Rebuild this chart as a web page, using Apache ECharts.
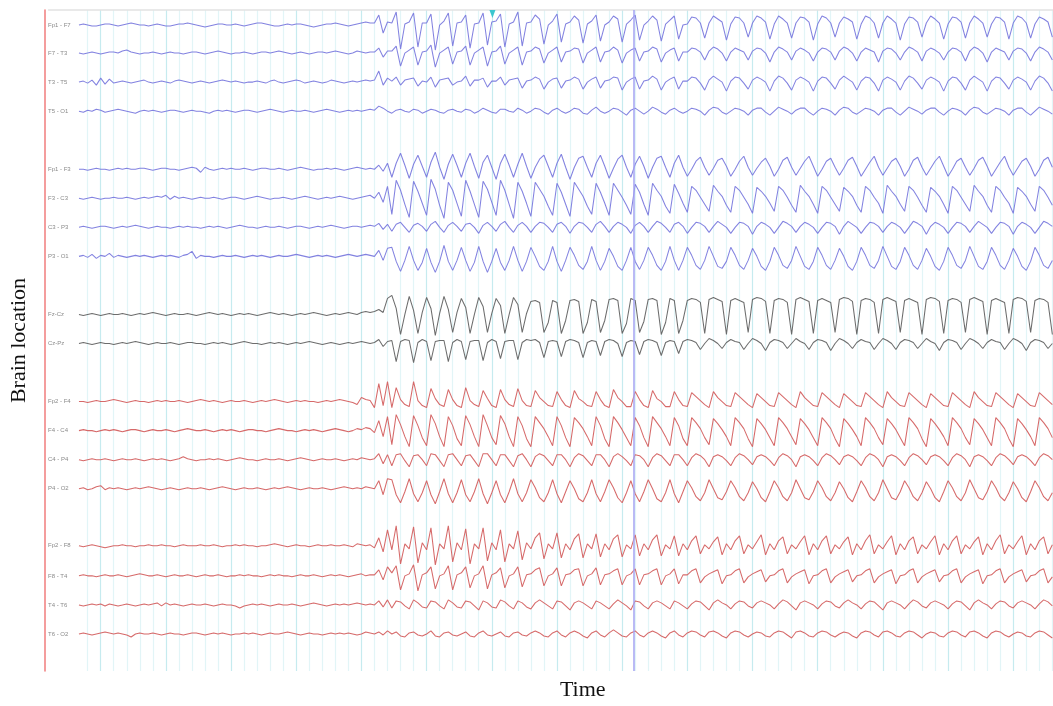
<!DOCTYPE html>
<html>
<head>
<meta charset="utf-8">
<script src="https://cdn.jsdelivr.net/npm/echarts@6/dist/echarts.min.js"></script>
<style>
  html, body { margin: 0; padding: 0; background: #ffffff; }
  #chart { width: 1053px; height: 706px; }
</style>
</head>
<body>
<div id="chart"></div>
<script>
// ---- Data ----------------------------------------------------------------
// Bipolar montage, top to bottom
const channels = [
  'Fp1 - F7', 'F7 - T3', 'T3 - T5', 'T5 - O1',
  'Fp1 - F3', 'F3 - C3', 'C3 - P3', 'P3 - O1',
  'Fz-Cz', 'Cz-Pz',
  'Fp2 - F4', 'F4 - C4', 'C4 - P4', 'P4 - O2',
  'Fp2 - F8', 'F8 - T4', 'T4 - T6', 'T6 - O2'
];

// Samples per channel (display units, positive = up), three samples per time division.
// First line of each array: background rhythm; the rest: onset and spike-wave discharge.
const fp1F7 = [
  0,1,0,-1,-1,0,1,1,0,-1, 0,1,2,1,0,0,-1,0,1,0, -1,-1,0,1,1,2,1,0,-1,-2, -1,0,1,1,0,0,1,0,-1,0, 1,2,2,1,0,-1,-1,0,1,0, 1,1,0,-1,-2,-1,0,1,1,2, 1,0,-1,0,1,2,3,2,
  2,10,-8,3,
  2,13,-24,1, 3,12,-22,2, 2,11,-25,0, 4,12,-21,2, 3,10,-23,1, 2,12,-20,3, 4,11,-22,1, 3,13,-21,2,
  3,10,6,-19,0, 4,11,-17,1, 3,9,5,-18,1, 4,10,-16,0, 3,9,6,-17,1, 5,10,-15,0, 4,9,5,-16,1, 5,9,-14,0,
  1,8,7,2,-13, 2,9,6,3,-15, 1,8,7,2,-12, 2,9,7,3,-14, 1,9,6,2,-13, 2,8,7,3,-15, 1,9,7,2,-12, 2,8,6,3,-14, 1,9,7,2,-13,
  2,9,6,2,-15, 1,8,7,3,-12, 2,9,6,2,-14, 1,8,7,3,-13, 2,9,6,2,-12, 1,8,7,3,-14, 2,9,7,2,-13, 1,8,6,3,-12
];
const f7T3 = [
  0,-1,0,1,0,-1,0,1,1,0, 2,3,1,0,-1,0,0,1,0,-1, 0,1,0,0,-1,0,1,1,0,-1, 0,1,2,1,0,-1,0,0,1,0, -1,0,1,1,0,1,2,1,0,-1, 0,1,0,-1,0,1,1,0,1,2, 1,0,-1,0,2,1,0,1,
  1,5,-4,2,
  2,7,-13,0, 3,6,-12,1, 2,8,-14,0, 3,6,-11,1, 2,7,-12,0, 3,6,-13,1, 2,7,-11,0, 3,6,-12,1,
  2,6,4,-10,0, 3,6,-9,1, 2,5,4,-10,0, 3,6,-9,1, 2,6,3,-10,0, 3,5,-8,1, 2,6,4,-9,0, 3,5,-8,1,
  1,5,4,1,-7, 2,6,4,0,-8, 1,5,3,1,-7, 2,5,4,0,-9, 1,6,4,1,-7, 2,5,3,0,-8, 1,5,4,1,-7, 2,6,4,0,-8, 1,5,3,1,-9,
  2,5,4,0,-7, 1,6,4,1,-8, 2,5,3,0,-7, 1,5,4,1,-8, 2,6,4,0,-9, 1,5,3,1,-7, 2,5,4,0,-8, 1,6,4,1,-7
];
const t3T5 = [
  0,1,-1,2,-3,4,-2,3,-1,0, 1,0,-1,0,1,2,0,-1,0,1, 0,-1,1,2,1,0,-1,0,1,0, -1,0,1,2,1,0,1,0,-1,0, 0,1,0,-1,1,2,0,-1,0,1, 2,1,-1,0,1,0,-1,0,2,1, 0,-1,0,1,0,1,2,1,
  2,11,-3,4,
  1,5,-3,2, 3,4,-4,1, 0,5,-5,2, 3,4,-3,0, 1,6,-4,2, 2,4,-5,1, 1,5,-3,2, 3,4,-6,1,
  2,5,3,-7,0, 3,4,-6,1, 2,5,3,-7,0, 3,5,-6,1, 2,5,4,-8,0, 3,5,-7,1, 2,6,3,-8,0, 3,5,-7,1,
  1,5,4,-1,-8, 2,6,3,0,-9, 1,5,4,-1,-7, 2,5,3,0,-9, 1,6,4,-1,-8, 2,5,3,0,-9, 1,5,4,-1,-7, 2,6,3,0,-8, 1,5,4,-1,-9,
  2,5,3,0,-8, 1,6,4,-1,-7, 2,5,3,0,-9, 1,5,4,-1,-8, 2,6,3,0,-9, 1,5,4,-1,-7, 2,5,3,0,-8, 1,6,4,-1,-9
];
const t5O1 = [
  0,-1,1,0,2,1,-1,0,1,2, 1,0,-1,-2,0,1,0,1,0,-1, 0,1,1,0,-1,0,1,0,0,-1, -2,0,1,0,1,0,-1,0,1,1, 0,-1,0,1,2,1,0,-1,0,1, 0,0,1,0,-1,0,1,2,1,0, -1,0,1,0,1,0,1,2,
  1,5,3,0,
  -2,1,2,0, -1,2,1,-2, 0,2,1,-1, -2,1,2,0, -1,2,1,-2, 0,3,1,-1, -2,2,2,0, -1,3,1,-2,
  0,3,2,-1,-3, 1,3,0,-2, 0,3,2,-2,-3, 1,4,0,-2, 0,3,2,-1,-4, 1,3,0,-3, 0,4,2,-1,-3, 1,3,0,-2,
  0,3,2,0,-4, 1,4,3,-1,-3, 0,3,2,0,-4, 1,3,3,-1,-4, 0,4,2,0,-3, 1,3,3,-1,-4, 0,3,2,0,-4, 1,4,3,-1,-3, 0,3,2,0,-4,
  1,3,3,-1,-4, 0,4,2,0,-3, 1,3,3,-1,-4, 0,3,2,0,-4, 1,4,3,-1,-3, 0,3,2,0,-4, 1,3,3,-1,-4, 0,4,2,0,-3
];
const fp1F3 = [
  0,0,-1,0,1,0,0,-1,0,1, 0,1,0,0,1,1,0,-1,0,1, 1,0,0,-1,0,1,2,1,-3,2, 0,-1,0,1,0,1,0,0,1,0, -1,0,1,1,0,0,1,0,-1,0, 1,2,1,0,-1,0,0,1,0,1, 0,-1,0,1,2,1,0,1,
  0,4,-2,6,
  -8,6,16,4, -9,5,14,3, -8,7,17,2, -10,5,15,4, -8,6,16,3, -9,7,14,2, -10,6,15,4, -8,5,16,3,
  -9,2,10,14,3, -8,6,15,2, -10,2,11,13,2, -8,6,14,3, -9,1,10,14,2, -8,5,13,3, -9,2,11,13,2, -8,6,14,2,
  -7,0,8,12,2, -6,1,9,11,3, -7,0,8,13,2, -6,1,7,11,3, -7,0,9,12,2, -6,1,8,13,3, -7,0,8,11,2, -6,1,9,12,3, -7,0,7,13,2,
  -6,1,8,11,3, -7,0,9,12,2, -6,1,8,13,3, -7,0,8,11,2, -6,1,9,12,3, -7,0,7,13,2, -6,1,8,11,3, -7,0,9,12,2
];
const f3C3 = [
  0,-1,0,1,0,-1,0,0,1,0, 0,1,0,-1,0,1,0,1,2,1, 3,-1,2,0,1,0,-1,0,1,0, 0,1,0,-1,0,1,1,0,-1,0, 1,2,1,0,-1,0,0,1,0,-1, 0,1,2,1,0,-1,0,1,0,1, 2,1,0,-1,0,1,2,3,
  0,6,-4,12,
  -16,18,8,-6, -19,17,7,-5, -17,19,9,-7, -20,16,8,-5, -18,18,7,-6, -19,17,9,-4, -17,18,8,-6, -20,16,7,-5,
  -18,16,9,2,-8, -17,15,6,-6, -18,16,9,2,-8, -16,15,6,-5, -17,15,8,1,-7, -16,14,6,-6, -17,15,8,2,-8, -15,14,5,-5,
  -14,12,8,1,-6, -13,13,7,2,-7, -14,12,8,1,-6, -15,11,7,2,-5, -13,12,8,1,-7, -14,13,7,2,-6, -15,12,8,1,-6, -13,11,7,2,-7, -14,12,8,1,-5,
  -15,13,7,2,-6, -13,12,8,1,-7, -14,11,7,2,-6, -15,12,8,1,-6, -13,13,7,2,-7, -14,12,8,1,-5, -15,11,7,2,-6, -13,12,8,1,-7
];
const c3P3 = [
  0,1,0,-1,0,1,1,0,-1,0, 1,0,1,2,1,0,-1,0,1,0, 0,-1,0,1,0,1,0,0,-1,0, 1,0,1,0,-1,0,1,2,1,0, 0,-1,0,1,0,0,1,0,-1,0, 1,1,0,-1,0,1,0,1,2,1, 0,-1,0,1,1,0,1,2,
  1,4,-2,3,
  -4,3,5,0, -5,2,4,1, -4,3,6,0, -5,2,5,1, -4,3,4,0, -6,2,5,1, -4,3,6,0, -5,2,5,1,
  -5,1,5,4,0, -5,3,5,1, -6,1,5,4,0, -5,3,6,1, -5,1,5,3,0, -6,2,5,1, -5,1,6,4,0, -5,3,5,1,
  -6,0,5,4,1, -5,1,6,3,0, -6,0,5,4,1, -7,1,5,3,0, -6,0,6,4,1, -5,1,5,3,0, -6,0,5,4,1, -7,1,6,3,0, -6,0,5,4,1,
  -5,1,5,3,0, -6,0,6,4,1, -7,1,5,3,0, -6,0,5,4,1, -5,1,6,3,0, -6,0,5,4,1, -7,1,5,3,0, -6,0,6,4,1
];
const p3O1 = [
  0,1,-1,2,-2,1,0,3,-1,1, 0,-1,0,1,0,1,0,-1,0,1, 0,1,0,-1,1,2,5,-2,1,0, 0,-1,0,1,0,0,1,0,-1,0, 1,0,1,0,-1,0,1,0,0,1, 2,1,0,-1,0,1,0,1,0,-1, 0,1,2,1,0,1,2,1,
  0,6,-4,8,
  9,-5,-15,-4, 10,-4,-14,-6, 8,-6,-16,-5, 11,-5,-14,-4, 9,-4,-15,-6, 10,-5,-16,-5, 8,-6,-14,-4, 10,-4,-15,-5,
  9,0,-10,-14,-5, 10,-5,-15,-4, 9,1,-9,-13,-5, 10,-4,-14,-5, 8,0,-10,-14,-4, 9,-5,-13,-4, 9,1,-9,-14,-5, 10,-4,-14,-4,
  9,1,-9,-13,-4, 10,0,-10,-12,-5, 9,1,-9,-13,-4, 8,0,-10,-14,-5, 9,1,-9,-12,-4, 10,0,-10,-13,-5, 9,1,-9,-13,-4, 8,0,-10,-14,-5, 9,1,-9,-12,-4,
  10,0,-10,-13,-5, 9,1,-9,-13,-4, 8,0,-10,-14,-5, 9,1,-9,-12,-4, 10,0,-10,-13,-5, 9,1,-9,-13,-4, 8,0,-10,-14,-5, 9,1,-9,-12,-4
];
const fzCz = [
  0,-1,0,1,0,-1,0,1,0,0, 1,0,-1,0,1,0,1,2,1,0, -1,0,1,0,0,1,0,-1,0,1, 2,1,0,1,0,-1,0,1,0,1, 0,-1,0,1,2,1,0,1,0,-1, 0,1,0,1,2,1,0,-1,0,1, 0,1,2,1,0,2,3,2,
  3,5,2,16,
  19,6,-20,0, 18,4,-19,2, 17,6,-21,1, 18,5,-18,2, 16,7,-19,0, 17,8,-18,1, 16,9,-19,0, 17,10,-18,1,
  13,14,12,-18,-8, 14,12,-19,-6, 14,15,13,-19,-8, 15,13,-18,-6, 15,16,14,-19,-9, 16,14,-18,-7, 15,16,14,-20,-8, 16,14,-19,-6,
  14,16,15,12,-19, 15,17,15,13,-20, 14,16,14,12,-18, 15,17,16,13,-19, 14,16,15,12,-20, 15,17,15,13,-19, 14,16,14,12,-18, 15,17,16,13,-20, 14,16,15,12,-19,
  15,17,15,13,-18, 14,16,14,12,-20, 15,17,16,13,-19, 14,16,15,12,-18, 15,17,15,13,-20, 14,16,14,12,-19, 15,17,16,13,-18, 14,16,15,12,-20
];
const czPz = [
  0,1,0,-1,0,1,0,0,-1,0, 1,0,1,2,1,0,-1,0,1,0, 0,1,0,-1,0,1,1,0,0,-1, 0,1,0,1,0,-1,0,1,2,1, 0,0,-1,0,1,0,1,0,-1,0, 1,0,1,2,1,0,-1,0,1,0, -1,0,1,0,1,2,1,0,
  1,4,-3,2,
  3,-18,2,4, 3,-19,1,4, 2,-17,2,3, 3,-18,1,4, 2,-16,2,3, 3,-17,1,4, 2,-15,2,3, 3,-16,1,4,
  3,4,1,-14,2, 3,2,-13,2, 4,3,1,-14,1, 3,2,-12,2, 4,3,0,-13,1, 3,2,-11,2, 4,3,1,-12,1, 3,2,-10,2,
  4,3,1,-6,0, 5,3,0,-5,1, 4,2,1,-6,0, 5,3,0,-7,1, 4,3,1,-5,0, 5,2,0,-6,1, 4,3,1,-7,0, 5,3,0,-5,1, 4,2,1,-6,0,
  5,3,0,-6,1, 4,3,1,-5,0, 5,2,0,-7,1, 4,3,1,-6,0, 5,3,0,-5,1, 4,2,1,-6,0, 5,3,0,-7,1, 4,3,1,-5,0
];
const fp2F4 = [
  0,0,-1,0,1,0,0,1,2,1, 0,-1,0,1,0,0,-1,0,1,0, 1,0,0,1,0,-1,0,1,2,1, 0,1,0,-1,0,1,0,0,1,0, -1,0,1,0,1,2,1,0,-1,0, 1,0,1,0,0,-1,0,1,0,1, 2,1,0,-1,-3,4,2,1,
  -6,18,-4,20,
  -6,14,2,-3, -5,20,1,-4, -6,13,3,-3, -5,12,2,-4, -6,14,1,-3, -5,11,3,-4, -6,12,2,-3, -5,13,1,-4,
  -5,11,4,0,-4, -5,10,2,-4, -6,11,3,0,-4, -5,10,2,-4, -6,12,4,0,-5, -5,10,2,-4, -6,11,3,0,-5, -5,10,2,-4,
  -5,9,5,1,-3, -6,10,4,0,-4, -5,9,5,1,-3, -6,8,4,0,-4, -5,9,5,1,-3, -6,10,4,0,-4, -5,9,5,1,-3, -6,8,4,0,-4, -5,9,5,1,-3,
  -6,10,4,0,-4, -5,9,5,1,-3, -6,8,4,0,-4, -5,9,5,1,-3, -6,10,4,0,-4, -5,9,5,1,-3, -6,8,4,0,-4, -5,9,5,1,-3
];
const f4C4 = [
  0,1,0,0,-1,0,1,0,1,0, -1,0,1,1,0,-1,0,1,0,0, 1,0,-1,0,1,2,1,0,0,1, 0,-1,0,1,0,1,0,-1,0,1, 1,0,0,-1,0,1,2,1,0,0, -1,0,1,0,1,0,-1,0,1,2, 1,0,-1,0,2,1,3,2,
  -2,10,-6,14,
  -14,16,6,-6, -16,15,5,-7, -15,16,7,-6, -16,14,5,-8, -15,15,6,-6, -16,16,5,-7, -14,15,7,-6, -16,14,5,-8,
  -16,14,8,2,-6, -15,14,5,-7, -16,13,8,2,-6, -15,14,5,-8, -16,14,8,1,-7, -15,13,5,-7, -16,14,8,2,-6, -15,13,5,-8,
  -15,13,8,2,-7, -14,12,7,1,-6, -15,13,8,2,-8, -16,12,7,1,-7, -15,13,8,2,-6, -14,12,7,1,-7, -15,13,8,2,-8, -16,12,7,1,-6, -15,13,8,2,-7,
  -14,12,7,1,-7, -15,13,8,2,-8, -16,12,7,1,-6, -15,13,8,2,-7, -14,12,7,1,-7, -15,13,8,2,-8, -16,12,7,1,-6, -15,13,8,2,-7
];
const c4P4 = [
  0,-1,0,1,0,0,1,0,-1,0, 1,0,0,1,0,-1,0,1,0,1, 0,-1,0,1,3,1,0,-1,0,0, 1,0,1,0,-1,0,1,2,1,0, 0,-1,0,1,0,0,1,0,-1,0, 1,2,1,0,-1,0,1,0,0,1, 0,-1,0,1,0,2,1,0,
  1,6,-4,5,
  -6,5,6,-1, -7,4,5,0, -6,6,5,-1, -7,5,6,0, -6,4,5,-1, -7,6,6,0, -6,5,5,-1, -7,4,6,0,
  -7,3,6,4,-1, -6,5,5,0, -7,2,6,4,-1, -6,5,5,0, -7,3,6,3,-1, -6,5,4,0, -7,2,6,4,-1, -6,5,5,0,
  -6,2,6,4,0, -7,3,5,3,-1, -6,2,6,4,0, -5,3,5,3,-1, -6,2,6,4,0, -7,3,5,3,-1, -6,2,6,4,0, -5,3,5,3,-1, -6,2,6,4,0,
  -7,3,5,3,-1, -6,2,6,4,0, -5,3,5,3,-1, -6,2,6,4,0, -7,3,5,3,-1, -6,2,6,4,0, -5,3,5,3,-1, -6,2,6,4,0
];
const p4O2 = [
  0,1,-1,0,2,3,-1,1,0,1, 0,-1,0,1,0,1,2,1,0,-1, 0,1,0,-1,0,1,0,0,1,0, -1,0,1,2,1,0,-1,0,1,0, 0,1,0,-1,0,1,0,1,2,1, 0,-1,0,1,0,0,1,0,-1,0, 1,2,1,0,1,0,2,1,
  0,8,-6,10,
  9,-6,-14,-3, 10,-5,-13,-4, 8,-6,-15,-3, 10,-5,-14,-4, 9,-6,-13,-3, 10,-5,-15,-4, 8,-6,-14,-3, 10,-5,-13,-4,
  9,1,-9,-13,-4, 9,-5,-14,-3, 8,0,-10,-13,-4, 9,-5,-13,-3, 9,1,-9,-14,-4, 8,-5,-13,-3, 9,0,-10,-13,-4, 9,-5,-14,-3,
  8,1,-8,-12,-4, 9,0,-9,-11,-3, 8,1,-8,-12,-4, 7,0,-9,-13,-3, 8,1,-8,-12,-4, 9,0,-9,-11,-3, 8,1,-8,-12,-4, 7,0,-9,-13,-3, 8,1,-8,-12,-4,
  9,0,-9,-11,-3, 8,1,-8,-12,-4, 7,0,-9,-13,-3, 8,1,-8,-12,-4, 9,0,-9,-11,-3, 8,1,-8,-12,-4, 7,0,-9,-13,-3, 8,1,-8,-12,-4
];
const fp2F8 = [
  0,-1,0,1,0,-1,-2,-1,0,0, 1,0,0,-1,0,0,1,0,0,1, 0,0,-1,0,1,0,0,0,1,0, 0,1,0,-1,0,0,1,0,1,0, 0,-1,0,0,1,2,1,0,-1,0, 1,0,0,-1,0,1,0,0,1,0, 0,1,0,-1,2,1,0,1,
  -2,8,-6,16,
  -4,20,-18,2, -3,19,-17,3, -4,18,-19,2, -3,20,-16,3, -4,17,-18,2, -3,18,-15,3, -4,16,-16,2, -3,15,-14,3,
  -3,8,13,-13,2, -3,13,-12,2, -4,7,12,-12,2, -3,12,-11,2, -4,7,11,-11,1, -3,11,-10,2, -4,6,11,-10,1, -3,10,-10,2,
  -4,5,10,-8,1, -3,4,9,-9,2, -4,5,10,-8,1, -3,4,11,-9,2, -4,5,9,-8,1, -3,4,10,-9,2, -4,5,10,-8,1, -3,4,9,-9,2, -4,5,11,-8,1,
  -3,4,10,-9,2, -4,5,9,-8,1, -3,4,10,-9,2, -4,5,10,-8,1, -3,4,9,-9,2, -4,5,11,-8,1, -3,4,10,-9,2, -4,5,9,-8,1
];
const f8T4 = [
  0,1,0,0,-1,0,1,0,0,1, 0,-1,0,1,2,1,0,0,1,0, -1,0,1,0,0,1,0,-1,0,1, 0,0,1,0,-1,0,0,1,0,1, 0,0,-1,0,1,0,1,0,0,-1, 0,1,0,0,1,0,-1,0,1,0, 1,0,-1,0,1,2,0,1,
  1,6,-4,9,
  3,10,-14,0, 2,11,-15,1, 3,9,-13,0, 2,10,-14,1, 3,9,-12,0, 2,10,-13,1, 3,8,-12,0, 2,9,-11,1,
  2,6,8,-10,0, 2,8,-10,1, 2,6,7,-10,0, 2,8,-9,1, 2,5,7,-9,0, 2,7,-9,1, 2,5,7,-9,0, 2,7,-8,1,
  1,5,7,-7,-1, 2,4,6,-8,0, 1,5,7,-7,-1, 2,4,6,-6,0, 1,5,7,-7,-1, 2,4,6,-8,0, 1,5,7,-7,-1, 2,4,6,-6,0, 1,5,7,-7,-1,
  2,4,6,-8,0, 1,5,7,-7,-1, 2,4,6,-6,0, 1,5,7,-7,-1, 2,4,6,-8,0, 1,5,7,-7,-1, 2,4,6,-6,0, 1,5,7,-7,-1
];
const t4T6 = [
  0,-1,0,1,0,1,-1,1,0,-1, 0,1,0,-1,0,1,0,1,2,-1, 2,0,1,0,-1,0,1,0,0,1, 0,-1,0,1,0,0,-1,-3,-1,0, 1,0,1,0,-1,0,1,0,0,1, 0,-1,0,1,2,1,0,-1,0,1, 0,1,0,1,2,1,0,1,
  0,4,-2,5,
  -3,4,3,-1, -4,5,2,-2, -3,4,3,-1, -4,5,2,-2, -3,4,3,-1, -5,4,2,-2, -3,5,3,-1, -4,4,2,-2,
  -4,2,5,2,-1, -4,4,3,-1, -5,2,4,2,-1, -4,4,2,-1, -4,1,5,2,-1, -5,4,3,-1, -4,2,4,2,-1, -4,4,2,-1,
  -4,1,4,3,-1, -5,2,5,2,0, -4,1,4,3,-1, -3,2,4,2,0, -4,1,5,3,-1, -5,2,4,2,0, -4,1,4,3,-1, -3,2,5,2,0, -4,1,4,3,-1,
  -5,2,4,2,0, -4,1,5,3,-1, -3,2,4,2,0, -4,1,4,3,-1, -5,2,5,2,0, -4,1,4,3,-1, -3,2,4,2,0, -4,1,5,3,-1
];
const t6O2 = [
  0,1,0,-1,0,1,2,1,0,1, 0,-1,-3,0,1,0,0,1,0,-1, 0,1,0,0,-1,0,1,1,0,-1, 0,1,0,1,0,-1,0,0,1,0, 1,0,-1,0,1,0,0,1,2,1, 0,-1,0,1,0,0,-1,0,1,0, 1,0,1,0,-1,0,2,1,
  0,2,-1,3,
  0,2,-2,-3, 1,2,-1,-2, 0,3,-2,-3, 1,2,-1,-2, 0,2,-2,-3, 1,3,-1,-2, 0,2,-2,-3, 1,2,-1,-2,
  1,3,1,-2,-3, 1,3,-1,-3, 1,3,1,-2,-4, 1,3,-1,-3, 1,4,1,-2,-3, 1,3,-1,-3, 1,3,1,-2,-4, 1,3,-1,-3,
  1,3,2,-1,-3, 2,3,1,-2,-4, 1,3,2,-1,-3, 0,2,1,-2,-3, 1,3,2,-1,-4, 2,3,1,-2,-3, 1,3,2,-1,-3, 0,2,1,-2,-4, 1,3,2,-1,-3,
  2,3,1,-2,-3, 1,3,2,-1,-4, 0,2,1,-2,-3, 1,3,2,-1,-3, 2,3,1,-2,-4, 1,3,2,-1,-3, 0,2,1,-2,-3, 1,3,2,-1,-4
];

const traces = [fp1F7, f7T3, t3T5, t5O1, fp1F3, f3C3, c3P3, p3O1, fzCz, czPz,
                fp2F4, f4C4, c4P4, p4O2, fp2F8, f8T4, t4T6, t6O2];

// Time of the cursor line and of the event flag (time divisions)
const cursorTime = 41.86;
const eventFlagTime = 31.05;

// ---- Layout --------------------------------------------------------------
// Depth of each channel's baseline below the top of the plot (display units)
const rowDepth = [15, 43, 72, 101, 159, 188, 217, 246, 304, 333, 391, 420, 449, 478, 535, 565, 594, 623];
const rowColor = ['#7777dd', '#7777dd', '#7777dd', '#7777dd', '#7777dd', '#7777dd', '#7777dd', '#7777dd',
                  '#5f5f5f', '#5f5f5f',
                  '#d35c5c', '#d35c5c', '#d35c5c', '#d35c5c', '#d35c5c', '#d35c5c', '#d35c5c', '#d35c5c'];
const firstSampleTime = -2 / 3;
const sampleStep = 1 / 3;
const timeMin = -3;
const timeMax = 74.05;

// Time-division lines: none before the first sample, every fifth one stronger
const divisionColors = [];
for (let t = timeMin + 1; t < timeMax; t++) {
  if (t < 0) divisionColors.push('rgba(255,255,255,0)');
  else divisionColors.push(((t - 1) % 5 === 0) ? '#c6ebef' : '#e2f5f7');
}

const labelByValue = {};
channels.forEach((name, k) => { labelByValue[-rowDepth[k]] = name; });

const series = traces.map((samples, k) => ({
  name: channels[k],
  type: 'line',
  showSymbol: false,
  symbol: 'none',
  silent: true,
  smooth: false,
  lineStyle: { color: rowColor[k], width: 1.05, opacity: 0.92 },
  data: samples.map((v, i) => [firstSampleTime + i * sampleStep, -rowDepth[k] + v]),
  z: 3
}));

series[0].markLine = {
  silent: true,
  symbol: 'none',
  label: { show: false },
  lineStyle: { color: '#a3a3f2', width: 1.5, type: 'solid' },
  data: [{ xAxis: cursorTime }]
};
series[0].markPoint = {
  silent: true,
  symbol: 'triangle',
  symbolRotate: 180,
  symbolSize: [6, 8],
  itemStyle: { color: '#3cc6cf' },
  label: { show: false },
  data: [{ coord: [eventFlagTime, -4] }]
};

const chart = echarts.init(document.getElementById('chart'), null, { renderer: 'canvas' });
chart.setOption({
  animation: false,
  backgroundColor: '#ffffff',
  grid: { left: 47.55, right: 0, top: 10, bottom: 34, containLabel: false },
  xAxis: [{
    type: 'value',
    min: timeMin,
    max: timeMax,
    interval: 1,
    position: 'bottom',
    name: 'Time',
    nameLocation: 'middle',
    nameGap: 8,
    nameTextStyle: {
      fontFamily: 'Liberation Serif', fontSize: 22, color: '#111111',
      padding: [0, 0, 0, 64]
    },
    axisLine: { show: false, onZero: false },
    axisTick: { show: false },
    axisLabel: { show: false },
    splitLine: {
      show: true,
      showMinLine: false,
      showMaxLine: false,
      lineStyle: { color: divisionColors, width: 1.2 }
    }
  }, {
    type: 'value',
    min: timeMin,
    max: timeMax,
    position: 'top',
    axisLine: { show: true, onZero: false, lineStyle: { color: '#e2e2e2', width: 1.5 } },
    axisTick: { show: false },
    axisLabel: { show: false },
    splitLine: { show: false }
  }],
  yAxis: {
    type: 'value',
    min: -660,
    max: 0,
    offset: 3.55,
    name: 'Brain location',
    nameLocation: 'middle',
    nameGap: 15,
    nameTextStyle: { fontFamily: 'Liberation Serif', fontSize: 22, color: '#111111' },
    axisLine: { show: true, onZero: false, lineStyle: { color: '#f07c7c', width: 1.5 } },
    axisTick: { show: false },
    splitLine: { show: false },
    axisLabel: {
      show: true,
      inside: true,
      margin: 3,
      customValues: rowDepth.map(d => -d),
      formatter: v => labelByValue[v] || '',
      fontFamily: 'Liberation Sans',
      fontSize: 6,
      color: '#8a8a8a'
    }
  },
  series: series
});
</script>
</body>
</html>
